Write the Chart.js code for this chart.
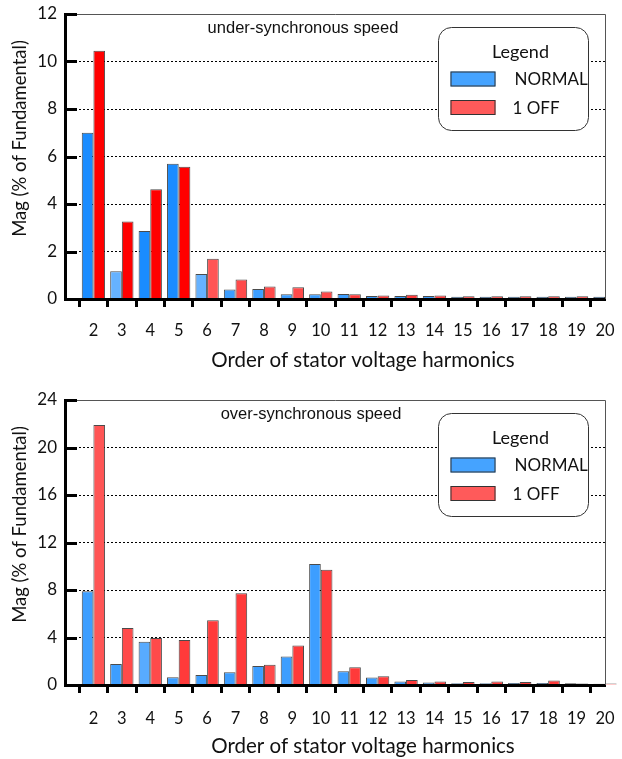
<!DOCTYPE html>
<html>
<head>
<meta charset="utf-8">
<script src="https://cdn.jsdelivr.net/npm/chart.js@4.4.1/dist/chart.umd.min.js"></script>
<style>
  html, body { margin: 0; padding: 0; background: #fff; }
  .panel { position: relative; width: 622px; }
  #panelUnder { height: 380px; }
  #panelOver { height: 379px; }
</style>
</head>
<body>
<div class="panel" id="panelUnder"><canvas id="chartUnder"></canvas></div>
<div class="panel" id="panelOver"><canvas id="chartOver"></canvas></div>
<script>
// Harmonic orders (order 1 is the fundamental: kept as an empty slot at the axis origin)
const harmonicOrders = ['1','2','3','4','5','6','7','8','9','10','11','12','13','14','15','16','17','18','19','20'];

// Under-synchronous speed, magnitude in % of fundamental
const underNormal = [null, 7.0, 1.17, 2.86, 5.7, 1.05, 0.4, 0.42, 0.2, 0.2, 0.21, 0.13, 0.13, 0.13, 0.09, 0.09, 0.09, 0.09, 0.09, 0.09];
const underOneOff = [null, 10.45, 3.26, 4.62, 5.57, 1.7, 0.82, 0.53, 0.49, 0.32, 0.2, 0.15, 0.18, 0.15, 0.12, 0.12, 0.12, 0.12, 0.12, 0.12];

// Over-synchronous speed, magnitude in % of fundamental
const overNormal = [null, 7.9, 1.77, 3.65, 0.65, 0.85, 1.07, 1.6, 2.4, 10.2, 1.15, 0.64, 0.3, 0.22, 0.15, 0.15, 0.17, 0.17, 0.14, 0.1];
const overOneOff = [null, 21.9, 4.8, 3.96, 3.8, 5.45, 7.73, 1.71, 3.32, 9.7, 1.49, 0.73, 0.42, 0.3, 0.25, 0.3, 0.25, 0.37, 0.12, 0.12];

// Value axis ticks
const underTicks = [0, 2, 4, 6, 8, 10, 12];
const overTicks = [0, 4, 8, 12, 16, 20, 24];

// Series names and axis titles
const seriesNames = ['NORMAL', '1 OFF'];
const xAxisTitle = 'Order of stator voltage harmonics';
const yAxisTitle = 'Mag (% of Fundamental)';

// Bar fill shades
const B1 = '#1a8cff', B2 = '#66b2ff', B3 = '#3d9eff', B4 = '#58abff';
const R1 = '#ff0000', R2 = '#ff5555', R3 = '#ff3a3a', R4 = '#ff4a4a';
const underNormalFill = [B3, B1, B2, B1, B1, B2, B3, B3, B3, B3, B3, B3, B3, B3, B3, B3, B3, B3, B3, B3];
const underOneOffFill = [R1, R1, R1, R1, R1, R2, R4, R4, R4, R4, R3, R3, R3, R3, R3, R3, R3, R3, R3, R3];
const overNormalFill  = [B3, B3, B3, B4, B3, B3, B3, B3, B3, B3, B3, B3, B3, B3, B3, B3, B3, B3, B3, B3];
const overOneOffFill  = [R2, R2, R4, R4, R3, R3, R3, R4, R3, R3, R3, R3, R3, R3, R3, R3, R3, R3, R3, R3];

const legendSwatch = ['#45a3ff', '#ff5a5a'];

const UI_FONT = 'Lato, "Noto Sans", sans-serif';
const TEXT = '#111';

// Frame, inward value ticks, axis titles, caption and boxed legend
const decorPlugin = {
  id: 'decor',
  afterDraw(chart, args, opts) {
    const { ctx, chartArea: a, scales: { y } } = chart;
    ctx.save();

    // thin frame along top and right
    ctx.strokeStyle = '#555';
    ctx.lineWidth = 1;
    ctx.beginPath();
    ctx.moveTo(a.left, a.top + 0.5);
    ctx.lineTo(a.right + 0.5, a.top + 0.5);
    ctx.lineTo(a.right + 0.5, a.bottom);
    ctx.stroke();

    // tick marks pointing into the plot
    ctx.strokeStyle = '#000';
    ctx.lineWidth = 3;
    y.ticks.forEach(t => {
      const py = Math.round(y.getPixelForValue(t.value)) + 0.5;
      ctx.beginPath();
      ctx.moveTo(a.left, py);
      ctx.lineTo(a.left + 12, py);
      ctx.stroke();
    });

    // axis titles
    ctx.fillStyle = TEXT;
    ctx.textBaseline = 'middle';
    ctx.textAlign = 'center';
    ctx.font = '20.5px ' + UI_FONT;
    ctx.fillText(xAxisTitle, (a.left + a.right) / 2 + 28, a.bottom + 61.5);
    ctx.save();
    ctx.translate(20, (a.top + a.bottom) / 2 - 18);
    ctx.rotate(-Math.PI / 2);
    ctx.font = '18.5px ' + UI_FONT;
    ctx.fillText(yAxisTitle, 0, 0);
    ctx.restore();

    // caption
    ctx.font = '16.5px "Liberation Sans", Arial, sans-serif';
    ctx.fillText(opts.caption, opts.captionX, a.top + 14);

    // legend box
    const bx = a.right - 166.5, by = a.top + 13.5, bw = 150, bh = 103;
    ctx.beginPath();
    ctx.roundRect(bx, by, bw, bh, 13);
    ctx.fillStyle = '#fff';
    ctx.fill();
    ctx.strokeStyle = '#333';
    ctx.lineWidth = 1;
    ctx.stroke();

    ctx.fillStyle = TEXT;
    ctx.font = '18px ' + UI_FONT;
    ctx.textAlign = 'center';
    ctx.fillText('Legend', bx + 82, by + 25);

    chart.data.datasets.forEach((ds, i) => {
      const sy = by + 44 + i * 28.5;
      ctx.fillStyle = legendSwatch[i];
      ctx.fillRect(bx + 12, sy, 45, 15);
      ctx.strokeStyle = '#333';
      ctx.lineWidth = 1;
      ctx.strokeRect(bx + 12.5, sy + 0.5, 44, 14);
      ctx.fillStyle = TEXT;
      ctx.textAlign = 'left';
      ctx.font = '17px ' + UI_FONT;
      ctx.fillText(ds.label, bx + (i === 0 ? 76 : 74), sy + 8.5);
    });
    ctx.restore();
  }
};

function makeChart(canvasId, normal, oneOff, normalFill, oneOffFill, ticks, caption, captionX, topPad, canvasH, overflowRight, labelPad) {
  const yMax = ticks[ticks.length - 1];
  const yStep = ticks[1] - ticks[0];
  return new Chart(document.getElementById(canvasId), {
    type: 'bar',
    data: {
      labels: harmonicOrders,
      datasets: [
        {
          label: seriesNames[0],
          data: normal,
          backgroundColor: normalFill,
          borderColor: 'rgba(30,30,30,0.8)',
          borderWidth: 1,
          borderSkipped: 'bottom',
          categoryPercentage: 0.82,
          barPercentage: 1.0
        },
        {
          label: seriesNames[1],
          data: oneOff,
          backgroundColor: oneOffFill,
          borderColor: 'rgba(30,30,30,0.8)',
          borderWidth: 1,
          borderSkipped: 'bottom',
          categoryPercentage: 0.82,
          barPercentage: 1.0,
          clip: { left: 0, top: 0, right: overflowRight, bottom: 0 }
        }
      ]
    },
    options: {
      responsive: true,
      maintainAspectRatio: false,
      animation: false,
      devicePixelRatio: 1,
      layout: { padding: { top: topPad, right: 17, left: 0, bottom: 0 } },
      plugins: {
        legend: { display: false },
        tooltip: { enabled: false },
        decor: { caption, captionX }
      },
      scales: {
        x: {
          type: 'category',
          offset: false,
          grid: {
            display: true,
            drawOnChartArea: false,
            drawTicks: true,
            tickLength: 8,
            tickWidth: 3,
            tickColor: (c) => c.index === 0 ? 'rgba(0,0,0,0)' : '#000'
          },
          border: { display: true, color: '#000', width: 3, z: 1 },
          ticks: {
            autoSkip: false,
            maxRotation: 0,
            padding: labelPad,
            color: TEXT,
            font: { family: UI_FONT, size: 16.5 },
            callback: (v, i) => i === 0 ? '' : harmonicOrders[i]
          },
          afterFit: (s) => {
            s.height = canvasH - (topPad + 285);
            s.paddingLeft = 0;
            s.paddingRight = 0;
          }
        },
        y: {
          min: 0,
          max: yMax,
          grid: {
            drawTicks: false,
            color: (c) => (c.tick.value === 0 || c.tick.value === yMax) ? 'rgba(0,0,0,0)' : '#000',
            lineWidth: 1
          },
          border: { display: true, color: '#000', width: 3, dash: [2, 2], z: 1 },
          ticks: {
            stepSize: yStep,
            padding: 8,
            color: TEXT,
            font: { family: UI_FONT, size: 17 }
          },
          afterFit: (s) => {
            s.width = 65;
            s.paddingTop = 0;
            s.paddingBottom = 0;
          }
        }
      }
    },
    plugins: [decorPlugin]
  });
}

makeChart('chartUnder', underNormal, underOneOff, underNormalFill, underOneOffFill, underTicks,
  'under-synchronous speed', 303, 14, 380, 0, 14);
makeChart('chartOver', overNormal, overOneOff, overNormalFill, overOneOffFill, overTicks,
  'over-synchronous speed', 311, 20, 379, 16, 16);
</script>
</body>
</html>
